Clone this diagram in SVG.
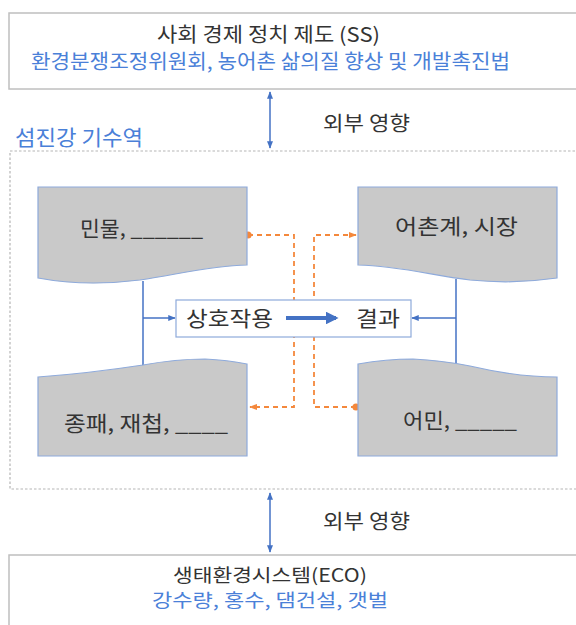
<svg xmlns="http://www.w3.org/2000/svg" width="576" height="625" viewBox="0 0 576 625">
<defs>
<style>
text{font-family:"Noto Sans CJK KR","Noto Sans",sans-serif;}
.dark{fill:#333;font-size:20px;}
.nt{fill:#333;font-size:21px;}
.blue{fill:#4a80d8;font-size:20px;}
.node{fill:#c9c9c9;stroke:#8eaadb;stroke-width:1.2;}
.frame{fill:#fff;stroke:#bfbfbf;stroke-width:1.5;}
.bl{stroke:#4472c4;stroke-width:1.5;fill:none;}
.or{stroke:#f4883c;stroke-width:1.8;fill:none;stroke-dasharray:5 4;}
</style>
<marker id="ab" viewBox="0 0 10 10" refX="9" refY="5" markerWidth="5" markerHeight="5" orient="auto-start-reverse"><path d="M0,1 L10,5 L0,9 Z" fill="#4472c4"/></marker>
<marker id="ao" viewBox="0 0 10 10" refX="9" refY="5" markerWidth="4.5" markerHeight="4.5" orient="auto"><path d="M0,1 L10,5 L0,9 Z" fill="#f4883c"/></marker>
<marker id="do" viewBox="0 0 10 10" refX="5" refY="5" markerWidth="4" markerHeight="4"><circle cx="5" cy="5" r="5" fill="#f4883c"/></marker>
<marker id="big" viewBox="0 0 10 10" refX="8" refY="5" markerWidth="3.2" markerHeight="3.2" orient="auto"><path d="M0,0 L10,5 L0,10 Z" fill="#4472c4"/></marker>
</defs>
<rect width="576" height="625" fill="#fff"/>

<g id="ss">
<rect class="frame" x="9" y="13" width="580" height="76"/>
<text class="dark" x="157" y="42" textLength="223" lengthAdjust="spacingAndGlyphs">사회 경제 정치 제도 (SS)</text>
<text class="blue" x="31" y="69" textLength="479" lengthAdjust="spacingAndGlyphs">환경분쟁조정위원회, 농어촌 삶의질 향상 및 개발촉진법</text>
</g>

<g id="estuary">
<rect x="10" y="151" width="580" height="338" fill="none" stroke="#b5b5b5" stroke-width="1.2" stroke-dasharray="2.5 2"/>
<text class="blue" x="15" y="145" style="font-size:21px" textLength="128" lengthAdjust="spacingAndGlyphs">섬진강 기수역</text>
</g>

<g id="eco">
<rect class="frame" x="9" y="555" width="580" height="90"/>
<text class="dark" x="173" y="582" style="font-size:18px" textLength="194" lengthAdjust="spacingAndGlyphs">생태환경시스템(ECO)</text>
<text class="blue" x="152" y="607" style="font-size:18px" textLength="236" lengthAdjust="spacingAndGlyphs">강수량, 홍수, 댐건설, 갯벌</text>
</g>

<g id="connectors">
<line class="bl" x1="270" y1="92" x2="270" y2="148" marker-start="url(#ab)" marker-end="url(#ab)" stroke-width="1.2"/>
<text class="dark" x="323" y="131" textLength="87" lengthAdjust="spacingAndGlyphs">외부 영향</text>
<line class="bl" x1="270" y1="493" x2="270" y2="552" marker-start="url(#ab)" marker-end="url(#ab)" stroke-width="1.2"/>
<text class="dark" x="323" y="529" textLength="87" lengthAdjust="spacingAndGlyphs">외부 영향</text>
<polyline class="or" points="248,235 294,235 294,407 250,407" marker-start="url(#do)" marker-end="url(#ao)"/>
<polyline class="or" points="356,407 314,407 314,235 356,235" marker-start="url(#do)" marker-end="url(#ao)"/>
<line class="bl" x1="143" y1="281" x2="143" y2="366"/>
<line class="bl" x1="143" y1="318" x2="175" y2="318" marker-end="url(#ab)"/>
<line class="bl" x1="456" y1="279" x2="456" y2="365"/>
<line class="bl" x1="456" y1="318" x2="412" y2="318" marker-end="url(#ab)"/>
</g>

<g id="freshwater">
<path class="node" d="M38,187 H247 V265 C210,266 180,274 140,280 C100,285 70,284 38,278 Z"/>
<text class="nt" x="80" y="236" textLength="123" lengthAdjust="spacingAndGlyphs">민물, ______</text>
</g>

<g id="market">
<path class="node" d="M358,187 H557 V278 C530,282 500,283 470,280 C430,275 400,266 358,265 Z"/>
<text class="nt" x="395" y="234" textLength="123" lengthAdjust="spacingAndGlyphs">어촌계, 시장</text>
</g>

<g id="seed">
<path class="node" d="M38,456 V377 C80,374 110,370 143,365 C165,361 185,359 205,359 C225,360 237,362 247,364 V456 Z"/>
<text class="nt" x="64" y="431" textLength="164" lengthAdjust="spacingAndGlyphs">종패, 재첩, ____</text>
</g>

<g id="fisher">
<path class="node" d="M358,456 V364 C375,361 395,359 413,359 C435,360 450,362 470,366 C500,373 530,377 557,377 V456 Z"/>
<text class="nt" x="403" y="428" textLength="114" lengthAdjust="spacingAndGlyphs">어민, _____</text>
</g>

<g id="interaction">
<rect x="176" y="300" width="235" height="37" fill="#fff" stroke="#8eaadb" stroke-width="1.2"/>
<text class="nt" x="186" y="326" textLength="87" lengthAdjust="spacingAndGlyphs">상호작용</text>
<line x1="286" y1="318" x2="336" y2="318" stroke="#4472c4" stroke-width="4" marker-end="url(#big)"/>
<text class="nt" x="356" y="326" textLength="44" lengthAdjust="spacingAndGlyphs">결과</text>
</g>
</svg>
